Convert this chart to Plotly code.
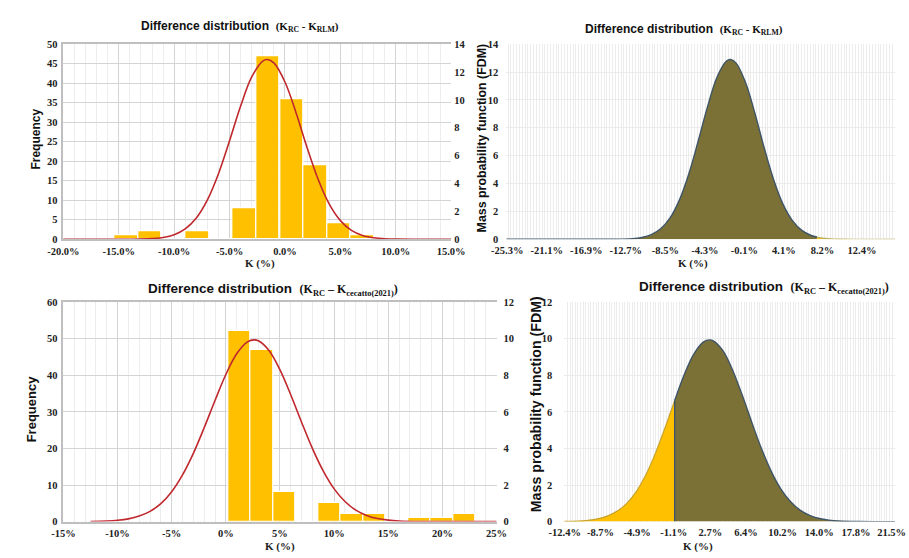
import plotly.graph_objects as go

# ---------------- data ----------------
# Difference distribution K_RC - K_RLM : histogram (bin centres in %, counts)
rlm_bin_centers = [-14.33, -12.2, -10.07, -7.93, -5.8, -3.66, -1.53, 0.61, 2.74, 4.88, 7.01]
rlm_counts = [1, 2, 0, 2, 0, 8, 47, 36, 19, 4, 1]
rlm_bin_width = 2.13

# fitted mass probability function (x in %, FDM)
rlm_curve_x = [-25.4, -20, -16, -14, -12, -11, -10, -9, -8, -7, -6, -5, -4, -3, -2, -1.6,
               -1, 0, 1, 2, 3, 4, 5, 6, 7, 7.6, 8, 9, 10, 12, 16]
rlm_curve_y = [0, 0, 0, 0.004, 0.046, 0.13, 0.33, 0.75, 1.53, 2.83, 4.71, 7.07, 9.56, 11.65,
               12.79, 12.9, 12.66, 11.29, 9.08, 6.57, 4.29, 2.52, 1.34, 0.64, 0.27, 0.16,
               0.107, 0.037, 0.012, 0.001, 0]
rlm_tail_from = 7.6

rlm_hist_tickvals = [-20, -15, -10, -5, 0, 5, 10, 15]
rlm_hist_ticktext = ["-20.0%", "-15.0%", "-10.0%", "-5.0%", "0.0%", "5.0%", "10.0%", "15.0%"]
rlm_fdm_tickvals = [-25.3, -21.1, -16.9, -12.7, -8.5, -4.3, -0.1, 4.1, 8.2, 12.4]
rlm_fdm_ticktext = ["-25.3%", "-21.1%", "-16.9%", "-12.7%", "-8.5%", "-4.3%", "-0.1%", "4.1%", "8.2%", "12.4%"]

# Difference distribution K_RC - K_cecatto(2021)
cec_bin_centers = [1.24, 3.32, 5.40, 7.48, 9.56, 11.64, 13.72, 15.80, 17.88, 19.96, 22.04]
cec_counts = [52, 47, 8, 0, 5, 2, 2, 0, 1, 1, 2]
cec_bin_width = 2.08

cec_curve_x = [-12.5, -11, -10, -9, -8, -7, -6, -5, -4, -3, -2, -1, 0, 1, 2, 2.6, 3, 4, 5, 6,
               7, 8, 9, 10, 11, 12, 13, 14, 15, 16, 18, 20, 22, 25]
cec_curve_y = [0.008, 0.031, 0.070, 0.148, 0.30, 0.56, 0.98, 1.63, 2.55, 3.73, 5.13, 6.62,
               8.04, 9.17, 9.82, 9.93, 9.88, 9.34, 8.29, 6.92, 5.42, 3.99, 2.76, 1.79, 1.10,
               0.63, 0.34, 0.17, 0.081, 0.036, 0.006, 0.001, 0, 0]
cec_split = -1.0

cec_hist_tickvals = [-15, -10, -5, 0, 5, 10, 15, 20, 25]
cec_hist_ticktext = ["-15%", "-10%", "-5%", "0%", "5%", "10%", "15%", "20%", "25%"]
cec_fdm_tickvals = [-12.4, -8.7, -4.9, -1.1, 2.7, 6.4, 10.2, 14.0, 17.8, 21.5]
cec_fdm_ticktext = ["-12.4%", "-8.7%", "-4.9%", "-1.1%", "2.7%", "6.4%", "10.2%", "14.0%", "17.8%", "21.5%"]

# ---------------- styling ----------------
W, H = 909, 558
GOLD = "#FFC000"
RED = "#C0282D"
OLIVE = "#7B7136"
OUTLINE = "#3F5566"
SANS = "Liberation Sans, Arial, sans-serif"
SERIF = "Liberation Serif, Times New Roman, serif"
TICKFONT = dict(family=SERIF, size=10.5, color="#222", weight="bold")


def px_x(a, b):
    return [a / W, b / W]


def px_y(top, bottom):
    return [1 - bottom / H, 1 - top / H]


fig = go.Figure()

# ---- top-left: histogram + curve ----
fig.add_trace(go.Bar(x=rlm_bin_centers, y=rlm_counts, width=rlm_bin_width,
                     marker=dict(color=GOLD, line=dict(color="white", width=1.2)),
                     xaxis="x", yaxis="y", showlegend=False))
fig.add_trace(go.Scatter(x=rlm_curve_x, y=rlm_curve_y, mode="lines",
                         line=dict(color=RED, width=1.6, shape="spline"),
                         xaxis="x", yaxis="y2", showlegend=False))

# ---- top-right: filled FDM ----
main_x = [x for x in rlm_curve_x if x <= rlm_tail_from]
main_y = [y for x, y in zip(rlm_curve_x, rlm_curve_y) if x <= rlm_tail_from]
tail_x = [x for x in rlm_curve_x if x >= rlm_tail_from]
tail_y = [y for x, y in zip(rlm_curve_x, rlm_curve_y) if x >= rlm_tail_from]
fig.add_trace(go.Scatter(x=tail_x, y=tail_y, mode="lines", fill="tozeroy", fillcolor=GOLD,
                         line=dict(color="#B8B060", width=1.2, shape="spline"),
                         xaxis="x2", yaxis="y3", showlegend=False))
fig.add_trace(go.Scatter(x=main_x, y=main_y, mode="lines", fill="tozeroy", fillcolor=OLIVE,
                         line=dict(color=OUTLINE, width=1.4, shape="spline"),
                         xaxis="x2", yaxis="y3", showlegend=False))

# ---- bottom-left: histogram + curve ----
fig.add_trace(go.Bar(x=cec_bin_centers, y=cec_counts, width=cec_bin_width,
                     marker=dict(color=GOLD, line=dict(color="white", width=1.2)),
                     xaxis="x3", yaxis="y4", showlegend=False))
fig.add_trace(go.Scatter(x=cec_curve_x, y=cec_curve_y, mode="lines",
                         line=dict(color=RED, width=1.6, shape="spline"),
                         xaxis="x3", yaxis="y5", showlegend=False))

# ---- bottom-right: filled FDM split ----
left_x = [x for x in cec_curve_x if x <= cec_split]
left_y = [y for x, y in zip(cec_curve_x, cec_curve_y) if x <= cec_split]
right_x = [x for x in cec_curve_x if x >= cec_split]
right_y = [y for x, y in zip(cec_curve_x, cec_curve_y) if x >= cec_split]
fig.add_trace(go.Scatter(x=left_x, y=left_y, mode="lines", fill="tozeroy", fillcolor=GOLD,
                         line=dict(color="#C9A227", width=1.2, shape="spline"),
                         xaxis="x4", yaxis="y6", showlegend=False))
fig.add_trace(go.Scatter(x=right_x, y=right_y, mode="lines", fill="tozeroy", fillcolor=OLIVE,
                         line=dict(color=OUTLINE, width=1.4, shape="spline"),
                         xaxis="x4", yaxis="y6", showlegend=False))
split_y = right_y[0]
fig.add_trace(go.Scatter(x=[cec_split, cec_split], y=[0, split_y], mode="lines",
                         line=dict(color=OUTLINE, width=1.4),
                         xaxis="x4", yaxis="y6", showlegend=False))

# ---------------- axes ----------------
hist_x_common = dict(showgrid=True, gridcolor="#D4D4D4", gridwidth=1,
                     minor=dict(dtick=1, showgrid=True, gridcolor="#EDEDED", gridwidth=1),
                     showline=True, linecolor="#BFBFBF", linewidth=1.5, mirror=True,
                     tickfont=TICKFONT, ticks="", zeroline=False, ticklabelstandoff=1)
hist_y_common = dict(showgrid=True, gridcolor="#D4D4D4", gridwidth=1.2,
                     showline=True, linecolor="#BFBFBF", linewidth=1.5,
                     tickfont=TICKFONT, ticks="", zeroline=False, ticklabelstandoff=2)
fdm_y_common = dict(showgrid=True, gridcolor="#EBEBEB", gridwidth=1, dtick=2,
                    showline=False, tickfont=TICKFONT, ticks="", zeroline=False)
fdm_x_common = dict(showgrid=False, showline=False, tickfont=TICKFONT, ticks="",
                    zeroline=False, ticklabelstandoff=3)

TOP = px_y(40, 239)
BOT = px_y(303, 527)

fig.update_layout(
    width=W, height=H, margin=dict(l=0, r=0, t=0, b=0),
    paper_bgcolor="white", plot_bgcolor="white", bargap=0,
    xaxis=dict(domain=px_x(49, 450), anchor="y", range=[-20, 15],
               tickvals=rlm_hist_tickvals, ticktext=rlm_hist_ticktext, **hist_x_common),
    yaxis=dict(domain=TOP, anchor="x", range=[0, 50], dtick=5, **hist_y_common),
    yaxis2=dict(overlaying="y", anchor="x", side="right", range=[0, 14], dtick=2,
                showgrid=False, showline=False, tickfont=TICKFONT, zeroline=False,
                ticklabelstandoff=2),
    xaxis2=dict(domain=px_x(507, 909), anchor="y3", range=[-25.4, 15.9],
                tickvals=rlm_fdm_tickvals, ticktext=rlm_fdm_ticktext,
                minor=dict(dtick=0.3, showgrid=True, gridcolor="#ECECEC", gridwidth=1),
                **fdm_x_common),
    yaxis3=dict(domain=TOP, anchor="x2", range=[0, 14], ticklabelstandoff=7, **fdm_y_common),
    xaxis3=dict(domain=px_x(49, 497), anchor="y4", range=[-15, 25],
                tickvals=cec_hist_tickvals, ticktext=cec_hist_ticktext, **hist_x_common),
    yaxis4=dict(domain=BOT, anchor="x3", range=[0, 60], dtick=10, **hist_y_common),
    yaxis5=dict(overlaying="y4", anchor="x3", side="right", range=[0, 12], dtick=2,
                showgrid=False, showline=False, tickfont=TICKFONT, zeroline=False,
                ticklabelstandoff=6),
    xaxis4=dict(domain=px_x(567, 909), anchor="y6", range=[-12.45, 21.85],
                tickvals=cec_fdm_tickvals, ticktext=cec_fdm_ticktext,
                minor=dict(dtick=3.77 / 14, showgrid=True, gridcolor="#ECECEC", gridwidth=1),
                **fdm_x_common),
    yaxis6=dict(domain=BOT, anchor="x4", range=[0, 12], ticklabelstandoff=11, **fdm_y_common),
)

# ---------------- text ----------------
def title_html(sub_a, sub_b, size_par):
    dash = "-" if sub_b == "RLM" else "–"
    return (f"<b>Difference distribution</b>&#160;&#160;<span style='font-family:{SERIF};font-size:{size_par}px'>"
            f"<b>(K<sub>{sub_a}</sub> {dash} K<sub>{sub_b}</sub>)</b></span>")


annotations = [
    dict(x=232, y=22, text=title_html("RC", "RLM", 11), font=dict(family=SANS, size=12, color="#111")),
    dict(x=691, y=25, text=title_html("RC", "RLM", 11), font=dict(family=SANS, size=12, color="#111")),
    dict(x=266, y=290, text=title_html("RC", "cecatto(2021)", 12), font=dict(family=SANS, size=13.5, color="#111")),
    dict(x=774, y=288, text=title_html("RC", "cecatto(2021)", 12), font=dict(family=SANS, size=13.5, color="#111")),
    dict(x=252, y=264, text="<b>K (%)</b>", font=dict(family=SERIF, size=11, color="#222")),
    dict(x=700, y=264, text="<b>K (%)</b>", font=dict(family=SERIF, size=11, color="#222")),
    dict(x=273, y=552, text="<b>K (%)</b>", font=dict(family=SERIF, size=11, color="#222")),
    dict(x=705, y=552, text="<b>K (%)</b>", font=dict(family=SERIF, size=11, color="#222")),
    dict(x=21, y=137, text="<b>Frequency</b>", textangle=-90, font=dict(family=SANS, size=12, color="#111")),
    dict(x=16, y=412, text="<b>Frequency</b>", textangle=-90, font=dict(family=SANS, size=13, color="#111")),
    dict(x=482, y=136, text="<b>Mass probability function (FDM)</b>", textangle=-90,
         font=dict(family=SANS, size=12.4, color="#111")),
    dict(x=538, y=407, text="<b>Mass probability function (FDM)</b>", textangle=-90,
         font=dict(family=SANS, size=14.2, color="#111")),
]
for a in annotations:
    a.update(xref="paper", yref="paper", x=a["x"] / W, y=1 - a["y"] / H,
             xanchor="center", yanchor="middle", showarrow=False)
fig.update_layout(annotations=annotations)

fig.write_html("out.html")
